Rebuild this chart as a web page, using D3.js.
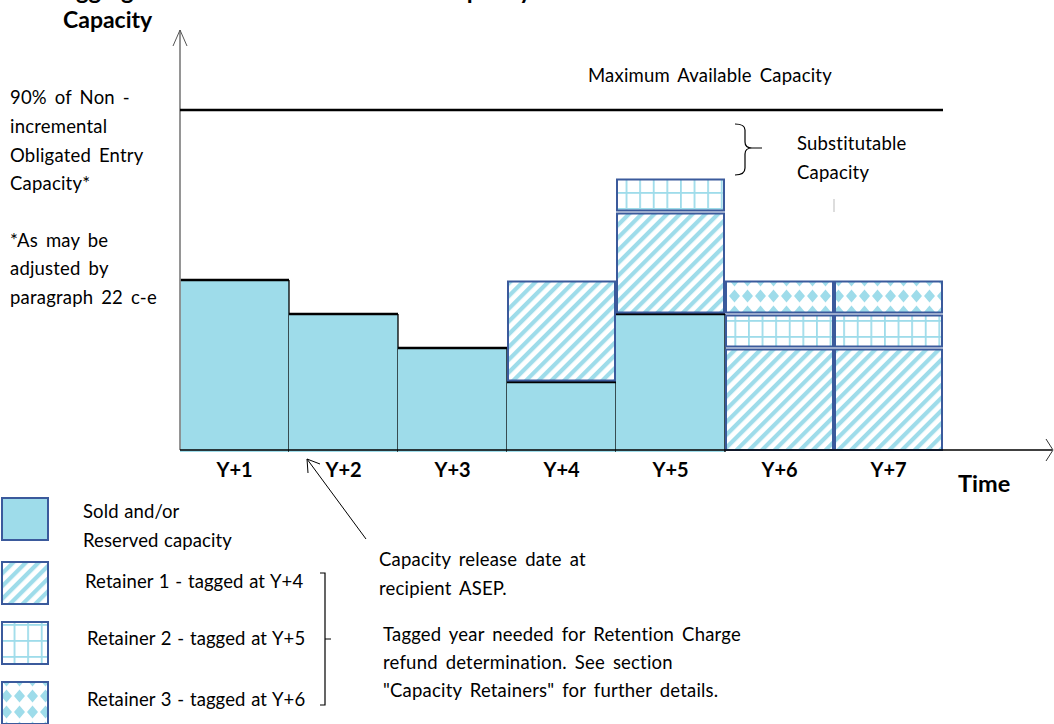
<!DOCTYPE html>
<html>
<head>
<meta charset="utf-8">
<script src="https://cdn.jsdelivr.net/npm/d3@7"></script>
<style>
  html, body { margin: 0; padding: 0; background: #fff; }
  svg { display: block; }
  text { font-family: Lato, "Open Sans", sans-serif; fill: #000; }
  text.note { font-size: 18.5px; word-spacing: 3px; letter-spacing: 0.2px; }
  text.leg { font-size: 18.5px; word-spacing: 0.8px; letter-spacing: 0.1px; }
</style>
</head>
<body>
<svg id="chart" width="1054" height="724"></svg>
<script>
// ---------------- data ----------------
const years = ["Y+1", "Y+2", "Y+3", "Y+4", "Y+5", "Y+6", "Y+7"];
const sold      = [5, 4, 3, 2, 4, 0, 0];
const retainer1 = [0, 0, 0, 3, 3, 3, 3];
const retainer2 = [0, 0, 0, 0, 1, 1, 1];
const retainer3 = [0, 0, 0, 0, 0, 1, 1];
const maxCapacity = 10;
const seriesKeys = ["sold", "retainer1", "retainer2", "retainer3"];
const legendLabels = [["Sold and/or", "Reserved capacity"], ["Retainer 1 - tagged at Y+4"], ["Retainer 2 - tagged at Y+5"], ["Retainer 3 - tagged at Y+6"]];
const leftNote = ["90% of Non -", "incremental", "Obligated Entry", "Capacity*", "", "*As may be", "adjusted by", "paragraph 22 c-e"];

// ---------------- setup ----------------
const svg = d3.select("#chart");
const x = d3.scaleBand().domain(years).range([180, 943]).padding(0);
const y = d3.scaleLinear().domain([0, maxCapacity]).range([450, 110]);

const SOLD = "#9edcea";
const BLUE = "#3b5a9c";

const defs = svg.append("defs");
const ph = defs.append("pattern").attr("id", "hatch").attr("patternUnits", "userSpaceOnUse")
  .attr("width", 9).attr("height", 9).attr("patternTransform", "rotate(45)");
ph.append("rect").attr("width", 9).attr("height", 9).attr("fill", "#fff");
ph.append("rect").attr("x", 0).attr("width", 4.2).attr("height", 9).attr("fill", SOLD);
const pg = defs.append("pattern").attr("id", "grid").attr("patternUnits", "userSpaceOnUse")
  .attr("width", 13.6).attr("height", 16);
pg.append("rect").attr("width", 13.6).attr("height", 16).attr("fill", "#fff");
pg.append("rect").attr("x", 0).attr("y", 0).attr("width", 1.8).attr("height", 16).attr("fill", SOLD);
pg.append("rect").attr("x", 0).attr("y", 0).attr("width", 13.6).attr("height", 1.8).attr("fill", SOLD);
const pd = defs.append("pattern").attr("id", "diamond").attr("patternUnits", "userSpaceOnUse")
  .attr("width", 13).attr("height", 16);
pd.append("rect").attr("width", 13).attr("height", 16).attr("fill", "#fff");
pd.append("path").attr("d", "M6.5,1.5 L12,8 L6.5,14.5 L1,8 Z").attr("fill", SOLD);

const fills = { sold: SOLD, retainer1: "url(#hatch)", retainer2: "url(#grid)", retainer3: "url(#diamond)" };

// ---------------- title (cut off at top, as in the source) ----------------
svg.append("text").attr("x", 52).attr("y", -1.5).attr("font-size", 24).attr("font-weight", "bold")
  .text("Tagging Retainers and Substitutable Capacity");

// ---------------- stacked bars ----------------
const table = years.map((yr, i) => ({ year: yr, sold: sold[i], retainer1: retainer1[i], retainer2: retainer2[i], retainer3: retainer3[i] }));
const stacked = d3.stack().keys(seriesKeys)(table);

stacked.forEach(layer => {
  const key = layer.key;
  const g = svg.append("g").attr("class", "layer-" + key);
  layer.forEach(d => {
    if (d[1] - d[0] <= 0) return;
    const x0 = x(d.data.year), bw = x.bandwidth();
    const yTop = y(d[1]), yBot = y(d[0]);
    if (key === "sold") {
      g.append("rect").attr("x", x0).attr("y", yTop).attr("width", bw).attr("height", yBot - yTop + 2)
        .attr("fill", SOLD);
      g.append("line").attr("x1", x0).attr("x2", x0 + bw).attr("y1", yTop).attr("y2", yTop)
        .attr("stroke", "#000").attr("stroke-width", 2.4);
      g.append("line").attr("x1", x0 + bw).attr("x2", x0 + bw).attr("y1", yTop).attr("y2", 452)
        .attr("stroke", "#000").attr("stroke-width", 1.3);
    } else {
      const gapTop = 1.5, gapBot = (d[0] > 0 ? 1.5 : 0);
      g.append("rect").attr("x", x0 + 1).attr("y", yTop + gapTop).attr("width", bw - 2)
        .attr("height", yBot - yTop - gapTop - gapBot)
        .attr("fill", fills[key]).attr("stroke", BLUE).attr("stroke-width", 2);
    }
  });
});

// ---------------- axes ----------------
svg.append("line").attr("x1", 180).attr("x2", 180).attr("y1", 30).attr("y2", 450)
  .attr("stroke", "#8a8a8a").attr("stroke-width", 1.8);
svg.append("path").attr("d", "M173,46 L180,30 L187,46").attr("fill", "none").attr("stroke", "#555").attr("stroke-width", 1);
svg.append("line").attr("x1", 180).attr("x2", 1052).attr("y1", 450).attr("y2", 450)
  .attr("stroke", "#000").attr("stroke-width", 1.4);
svg.append("path").attr("d", "M1046,439 L1053,450 L1046,461").attr("fill", "none").attr("stroke", "#333").attr("stroke-width", 1);

const xAxis = d3.axisBottom(x).tickSize(0).tickPadding(11);
const gx = svg.append("g").attr("transform", "translate(0,452)").call(xAxis);
gx.select(".domain").remove();
gx.selectAll("text").attr("font-size", 20).attr("font-weight", "bold").attr("font-family", "Lato, sans-serif").attr("fill", "#000");

svg.append("text").attr("x", 63).attr("y", 28).attr("font-size", 23).attr("font-weight", "bold").text("Capacity");
svg.append("text").attr("x", 958).attr("y", 492).attr("font-size", 23.5).attr("font-weight", "bold").text("Time");

// ---------------- maximum capacity line ----------------
svg.append("line").attr("x1", 180).attr("x2", 943).attr("y1", y(maxCapacity)).attr("y2", y(maxCapacity))
  .attr("stroke", "#000").attr("stroke-width", 2.5);
svg.append("text").attr("class", "note").attr("x", 588).attr("y", 82).text("Maximum Available Capacity");

// ---------------- left note ----------------
const lineY = [104, 133, 162, 190, 218, 247, 275, 304];
leftNote.forEach((t, i) => {
  if (t) svg.append("text").attr("class", "note").attr("x", 10).attr("y", lineY[i]).text(t);
});

// ---------------- substitutable brace ----------------
svg.append("path")
  .attr("d", "M735,124 Q745,124 745,130 L745,142 Q745,148 752,148 L762,148 M752,148 Q745,148 745,154 L745,168 Q745,175 735,175")
  .attr("fill", "none").attr("stroke", "#000").attr("stroke-width", 1.2);
svg.append("text").attr("class", "note").attr("x", 797).attr("y", 150).text("Substitutable");
svg.append("text").attr("class", "note").attr("x", 797).attr("y", 179).text("Capacity");
svg.append("line").attr("x1", 834).attr("x2", 834).attr("y1", 199).attr("y2", 212).attr("stroke", "#bbb").attr("stroke-width", 1);

// ---------------- release arrow annotation ----------------
svg.append("line").attr("x1", 366).attr("y1", 539).attr("x2", 307).attr("y2", 459).attr("stroke", "#000").attr("stroke-width", 1);
svg.append("path").attr("d", "M320,464 L307,459 L308,473").attr("fill", "none").attr("stroke", "#000").attr("stroke-width", 1);
const noteLines = [
  [379, 566, "Capacity release date at"],
  [379, 595, "recipient ASEP."],
  [383, 641, "Tagged year needed for Retention Charge"],
  [383, 669, "refund determination. See section"],
  [383, 697, "\"Capacity Retainers\" for further details."]
];
noteLines.forEach(([tx, ty, t]) => svg.append("text").attr("class", "note").attr("x", tx).attr("y", ty).text(t));

// ---------------- legend ----------------
const legendBoxY = [498, 562, 622, 682];
const legendTextX = [83, 85, 87, 87];
const legendTextY = [[518, 547], [588], [645], [706]];
seriesKeys.forEach((k, i) => {
  svg.append("rect").attr("x", 2).attr("y", legendBoxY[i]).attr("width", 46).attr("height", 42)
    .attr("fill", fills[k]).attr("stroke", BLUE).attr("stroke-width", 2);
  legendLabels[i].forEach((t, j) => {
    svg.append("text").attr("class", "leg").attr("x", legendTextX[i]).attr("y", legendTextY[i][j]).text(t);
  });
});
svg.append("path").attr("d", "M320,573 L325,573 L325,705 L320,705 M325,639 L331,639")
  .attr("fill", "none").attr("stroke", "#000").attr("stroke-width", 1.2);
</script>
</body>
</html>
